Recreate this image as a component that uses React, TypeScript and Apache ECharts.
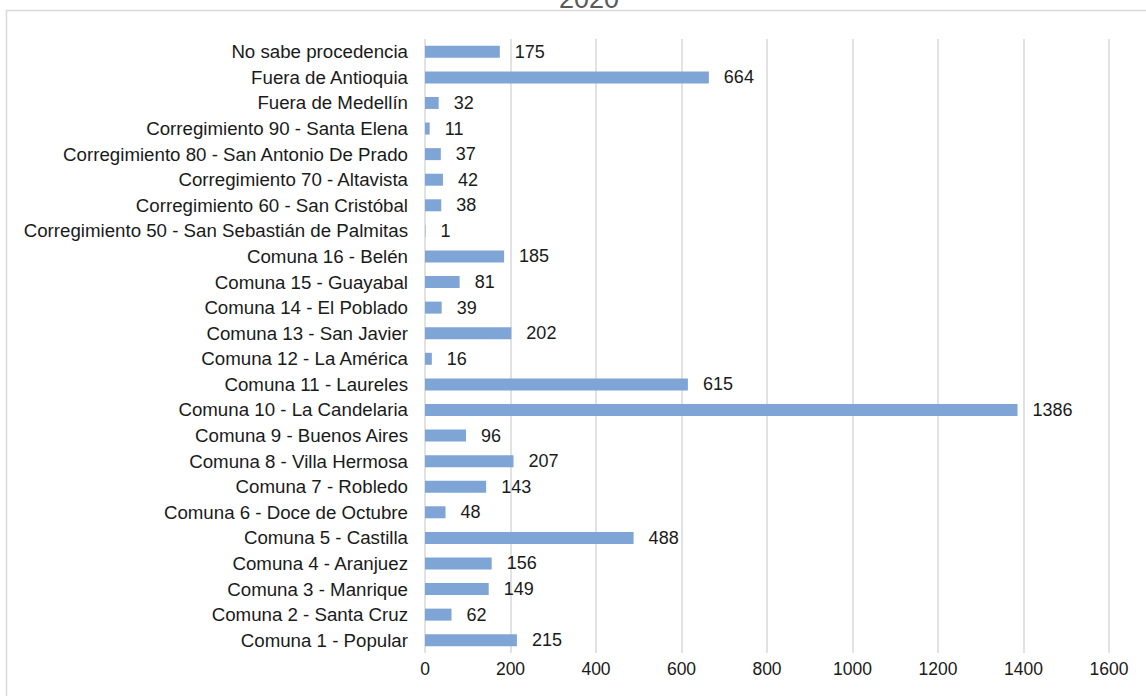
import React, { useEffect, useRef } from "react";
import * as echarts from "echarts";

const categories = [
  "Comuna 1 - Popular",
  "Comuna 2 - Santa Cruz",
  "Comuna 3 - Manrique",
  "Comuna 4 - Aranjuez",
  "Comuna 5 - Castilla",
  "Comuna 6 - Doce de Octubre",
  "Comuna 7 - Robledo",
  "Comuna 8 - Villa Hermosa",
  "Comuna 9 - Buenos Aires",
  "Comuna 10 - La Candelaria",
  "Comuna 11 - Laureles",
  "Comuna 12 - La América",
  "Comuna 13 - San Javier",
  "Comuna 14 - El Poblado",
  "Comuna 15 - Guayabal",
  "Comuna 16 - Belén",
  "Corregimiento 50 - San Sebastián de Palmitas",
  "Corregimiento 60 - San Cristóbal",
  "Corregimiento 70 - Altavista",
  "Corregimiento 80 - San Antonio De Prado",
  "Corregimiento 90 - Santa Elena",
  "Fuera de Medellín",
  "Fuera de Antioquia",
  "No sabe procedencia",
];

const values = [215, 62, 149, 156, 488, 48, 143, 207, 96, 1386, 615, 16, 202, 39, 81, 185, 1, 38, 42, 37, 11, 32, 664, 175];

const titleText = "2020";
const xMin = 0;
const xMax = 1600;
const xInterval = 200;

const FONT = "Liberation Sans, Arial, sans-serif";

export default function App() {
  const ref = useRef<HTMLDivElement>(null);
  useEffect(() => {
    document.body.style.margin = "0";
    const chart = echarts.init(ref.current!, null, { renderer: "svg" });
    chart.setOption({
      animation: false,
      backgroundColor: "#ffffff",
      textStyle: { fontFamily: FONT },
      title: {
        text: titleText,
        left: 584,
        textAlign: "center",
        top: -20,
        textStyle: { fontSize: 27, fontWeight: "normal", color: "#595959", fontFamily: FONT },
      },
      graphic: [
        {
          type: "rect",
          shape: { x: 6.5, y: 10.5, width: 1200, height: 800 },
          style: { fill: "none", stroke: "#d9d9d9", lineWidth: 1.5 },
          silent: true,
          z: -1,
        },
      ],
      grid: { left: 425, right: 37, top: 39, bottom: 43, containLabel: false },
      xAxis: {
        type: "value",
        min: xMin,
        max: xMax,
        interval: xInterval,
        axisLine: { show: false },
        axisTick: { show: false },
        splitLine: { lineStyle: { color: "#d9d9d9", width: 1.5 } },
        axisLabel: {
          color: "#1a1a1a",
          fontSize: 17.5,
          margin: 7,
          fontFamily: FONT,
          formatter: (v: number) => String(v),
        },
      },
      yAxis: {
        type: "category",
        data: categories,
        axisLine: { show: false },
        axisTick: { show: false },
        axisLabel: { color: "#1a1a1a", fontSize: 18.7, margin: 17, fontFamily: FONT },
      },
      series: [
        {
          type: "bar",
          data: values,
          barWidth: 12,
          itemStyle: { color: "#7fa5d7" },
          label: {
            show: true,
            position: "right",
            distance: 15,
            color: "#1a1a1a",
            fontSize: 18,
            fontFamily: FONT,
          },
        },
      ],
    });
    return () => chart.dispose();
  }, []);
  return <div ref={ref} style={{ width: 1146, height: 696 }} />;
}
